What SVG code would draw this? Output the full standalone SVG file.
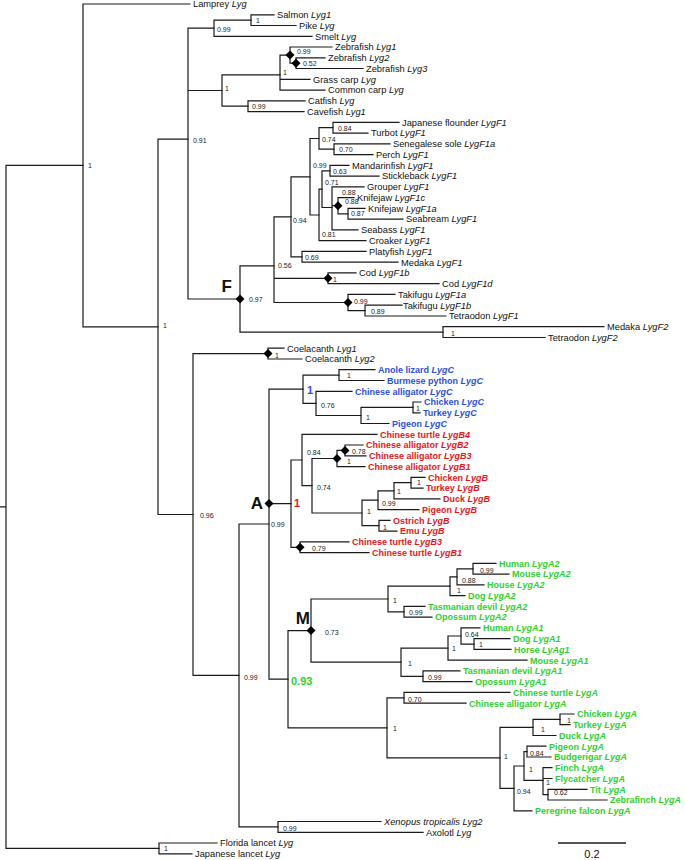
<svg xmlns="http://www.w3.org/2000/svg" xmlns:xlink="http://www.w3.org/1999/xlink" width="685" height="860" viewBox="0 0 685 860">
<defs>
<style>
.b{fill:none;stroke:#1a1a1a;stroke-width:1.2;stroke-linecap:square}
.t{font-family:"Liberation Sans",Arial,sans-serif;font-size:9.3px;fill:#111}
.i{font-style:italic}
.s{font-family:"Liberation Sans",Arial,sans-serif;font-size:7px;fill:#222}
.bl{fill:#2c4fe0;font-weight:bold;font-size:9px}
.rd{fill:#e8141c;font-weight:bold;font-size:9px}
.gr{fill:#2ed12e;font-weight:bold;font-size:9px}
.big{font-family:"Liberation Sans",Arial,sans-serif;font-size:17px;font-weight:bold;fill:#111}
.sb{font-family:"Liberation Sans",Arial,sans-serif;font-size:11px;font-weight:bold}
</style>
<path id="dm" d="M0,-4.5L4.5,0L0,4.5L-4.5,0Z" fill="#000"/>
</defs>
<rect width="685" height="860" fill="#fff"/>
<g id="connectors" class="b">
<path d="M6,165.4V848.4M0,506.9H6M6,165.4H83M6,848.4H159"/>
<path d="M83,4V326.9M83,4H190M83,326.9H158"/>
<path d="M158,139.2V514.5M158,139.2H188M158,514.5H193"/>
<path d="M188,28.2V299M188,28.2H214M188,90.5H222M188,299H240"/>
<path d="M214,20.1V36.3M214,20.1H251M214,36.3H312"/>
<path d="M251,14.8V25.5M251,14.8H274M251,25.5H296"/>
<path d="M222,74.8V106.2M222,74.8H280M222,106.2H248"/>
<path d="M280,55.1V90.1M280,55.1H290M280,79.3H310M280,90.1H325"/>
<path d="M290,47V63.2M290,47H332M290,63.2H296"/>
<path d="M296,57.8V68.5M296,57.8H325M296,68.5H363"/>
<path d="M248,100.8V111.6M248,100.8H305M248,111.6H304"/>
<path d="M240,265.9V332.1M240,265.9H274M240,332.1H443"/>
<path d="M274,216.8V302.5M274,216.8H291M274,278.3H328M274,302.5H348"/>
<path d="M291,176.8V256.8M291,176.8H310M291,256.8H302"/>
<path d="M310,138.5V215M310,138.5H319M310,215H319"/>
<path d="M319,127.7V149.2M319,127.7H333M319,149.2H334"/>
<path d="M333,122.3V133.1M333,122.3H399M333,133.1H368"/>
<path d="M334,143.8V154.6M334,143.8H390M334,154.6H373"/>
<path d="M319,189.2V240.7M319,189.2H322M319,240.7H366"/>
<path d="M322,170.8V207.5M322,170.8H330M322,207.5H332"/>
<path d="M330,165.4V176.1M330,165.4H349M330,176.1H379"/>
<path d="M332,186.9V229.9M332,186.9H364M332,205.7H338M332,229.9H358"/>
<path d="M338,197.6V213.8M338,197.6H354M338,213.8H348"/>
<path d="M348,208.4V219.1M348,208.4H365M348,219.1H403"/>
<path d="M302,251.4V262.2M302,251.4H366M302,262.2H398"/>
<path d="M328,272.9V283.7M328,272.9H356M328,283.7H439"/>
<path d="M348,294.4V310.6M348,294.4H395M348,310.6H365"/>
<path d="M365,305.2V316M365,305.2H402M365,316H446"/>
<path d="M443,326.7V337.5M443,326.7H604M443,337.5H545"/>
<path d="M193,353.6V675.4M193,353.6H268M193,675.4H239"/>
<path d="M268,348.2V359M268,348.2H284M268,359H302"/>
<path d="M239,524V826.9M239,524H269M239,826.9H278"/>
<path d="M278,821.5V832.3M278,821.5H381M278,832.3H423"/>
<path d="M269,389.2V679.2M269,389.2H303M269,503.6H291M269,679.2H288"/>
<path d="M303,375.1V403.3M303,375.1H339M303,403.3H316"/>
<path d="M339,369.7V380.5M339,369.7H375M339,380.5H384"/>
<path d="M316,391.3V415.5M316,391.3H352M316,415.5H361"/>
<path d="M361,407.4V423.5M361,407.4H413M361,423.5H389"/>
<path d="M413,402V412.8M413,402H421M413,412.8H420"/>
<path d="M291,460V547.3M291,460H302M291,547.3H300"/>
<path d="M302,434.3V485.7M302,434.3H377M302,485.7H312"/>
<path d="M312,458.5V513M312,458.5H337M312,513H362"/>
<path d="M337,450.4V466.6M337,450.4H345M337,466.6H365"/>
<path d="M345,445V455.8M345,445H363M345,455.8H366"/>
<path d="M362,500.2V525.7M362,500.2H378M362,525.7H379"/>
<path d="M378,490.8V509.6M378,490.8H394M378,509.6H419"/>
<path d="M394,482.7V498.8M394,482.7H411M394,498.8H440"/>
<path d="M411,477.3V488.1M411,477.3H425M411,488.1H423"/>
<path d="M379,520.3V531.1M379,520.3H390M379,531.1H397"/>
<path d="M300,541.9V552.6M300,541.9H349M300,552.6H369"/>
<path d="M288,630.6V727.9M288,630.6H311M288,727.9H387"/>
<path d="M311,599V662.2M311,599H388M311,662.2H401"/>
<path d="M388,586.2V611.8M388,586.2H450M388,611.8H404"/>
<path d="M450,576.8V595.6M450,576.8H457M450,595.6H465"/>
<path d="M457,568.8V584.9M457,568.8H473M457,584.9H484"/>
<path d="M473,563.4V574.1M473,563.4H496M473,574.1H509"/>
<path d="M404,606.4V617.1M404,606.4H425M404,617.1H432"/>
<path d="M401,648.1V676.3M401,648.1H448M401,676.3H423"/>
<path d="M448,636V660.2M448,636H461M448,660.2H527"/>
<path d="M461,627.9V644.1M461,627.9H480M461,644.1H474"/>
<path d="M474,638.7V649.4M474,638.7H510M474,649.4H511"/>
<path d="M423,670.9V681.7M423,670.9H460M423,681.7H472"/>
<path d="M387,697.8V757.9M387,697.8H404M387,757.9H500"/>
<path d="M404,692.4V703.2M404,692.4H510M404,703.2H466"/>
<path d="M500,727.4V788.4M500,727.4H533M500,788.4H514"/>
<path d="M533,719.4V735.5M533,719.4H560M533,735.5H556"/>
<path d="M560,714V724.7M560,714H574M560,724.7H570"/>
<path d="M514,766V810.8M514,766H524M514,810.8H532"/>
<path d="M524,751.6V780.3M524,751.6H527M524,780.3H543"/>
<path d="M527,746.2V757M527,746.2H546M527,757H551"/>
<path d="M543,767.7V794.6M543,767.7H552M543,778.5H552M543,794.6H548"/>
<path d="M548,789.3V800M548,789.3H587M548,800H607"/>
<path d="M159,843V853.8M159,843H217M159,853.8H192"/>
</g>
<g id="leaves" class="t">
<g id="leaf-lamprey"><text x="193" y="7.3">Lamprey <tspan class="i">Lyg</tspan></text></g>
<g id="leaf-salmon"><text x="277" y="18.1">Salmon <tspan class="i">Lyg1</tspan></text></g>
<g id="leaf-pike"><text x="299" y="28.8">Pike <tspan class="i">Lyg</tspan></text></g>
<g id="leaf-smelt"><text x="315" y="39.6">Smelt <tspan class="i">Lyg</tspan></text></g>
<g id="leaf-zf1"><text x="335" y="50.3">Zebrafish <tspan class="i">Lyg1</tspan></text></g>
<g id="leaf-zf2"><text x="328" y="61.1">Zebrafish <tspan class="i">Lyg2</tspan></text></g>
<g id="leaf-zf3"><text x="366" y="71.8">Zebrafish <tspan class="i">Lyg3</tspan></text></g>
<g id="leaf-grasscarp"><text x="313" y="82.6">Grass carp <tspan class="i">Lyg</tspan></text></g>
<g id="leaf-commoncarp"><text x="328" y="93.4">Common carp <tspan class="i">Lyg</tspan></text></g>
<g id="leaf-catfish"><text x="308" y="104.1">Catfish <tspan class="i">Lyg</tspan></text></g>
<g id="leaf-cavefish"><text x="307" y="114.9">Cavefish <tspan class="i">Lyg1</tspan></text></g>
<g id="leaf-jflounder"><text x="402" y="125.6">Japanese flounder <tspan class="i">LygF1</tspan></text></g>
<g id="leaf-turbot"><text x="371" y="136.4">Turbot <tspan class="i">LygF1</tspan></text></g>
<g id="leaf-sole"><text x="393" y="147.1">Senegalese sole <tspan class="i">LygF1a</tspan></text></g>
<g id="leaf-perch"><text x="376" y="157.9">Perch <tspan class="i">LygF1</tspan></text></g>
<g id="leaf-mandarin"><text x="352" y="168.7">Mandarinfish <tspan class="i">LygF1</tspan></text></g>
<g id="leaf-stickleback"><text x="382" y="179.4">Stickleback <tspan class="i">LygF1</tspan></text></g>
<g id="leaf-grouper"><text x="367" y="190.2">Grouper <tspan class="i">LygF1</tspan></text></g>
<g id="leaf-knifejawc"><text x="357" y="200.9">Knifejaw <tspan class="i">LygF1c</tspan></text></g>
<g id="leaf-knifejawa"><text x="368" y="211.7">Knifejaw <tspan class="i">LygF1a</tspan></text></g>
<g id="leaf-seabream"><text x="406" y="222.4">Seabream <tspan class="i">LygF1</tspan></text></g>
<g id="leaf-seabass"><text x="361" y="233.2">Seabass <tspan class="i">LygF1</tspan></text></g>
<g id="leaf-croaker"><text x="369" y="244">Croaker <tspan class="i">LygF1</tspan></text></g>
<g id="leaf-platyfish"><text x="369" y="254.7">Platyfish <tspan class="i">LygF1</tspan></text></g>
<g id="leaf-medakaf1"><text x="401" y="265.5">Medaka <tspan class="i">LygF1</tspan></text></g>
<g id="leaf-codb"><text x="359" y="276.2">Cod <tspan class="i">LygF1b</tspan></text></g>
<g id="leaf-codd"><text x="442" y="287">Cod <tspan class="i">LygF1d</tspan></text></g>
<g id="leaf-takifugua"><text x="398" y="297.7">Takifugu <tspan class="i">LygF1a</tspan></text></g>
<g id="leaf-takifugub"><text x="403" y="308.5">Takifugu <tspan class="i">LygF1b</tspan></text></g>
<g id="leaf-tetraodonf1"><text x="449" y="319.3">Tetraodon <tspan class="i">LygF1</tspan></text></g>
<g id="leaf-medakaf2"><text x="607" y="330">Medaka <tspan class="i">LygF2</tspan></text></g>
<g id="leaf-tetraodonf2"><text x="548" y="340.8">Tetraodon <tspan class="i">LygF2</tspan></text></g>
<g id="leaf-coel1"><text x="287" y="351.5">Coelacanth <tspan class="i">Lyg1</tspan></text></g>
<g id="leaf-coel2"><text x="305" y="362.3">Coelacanth <tspan class="i">Lyg2</tspan></text></g>
<g id="leaf-anole"><text class="bl" x="378" y="373">Anole lizard <tspan class="i">LygC</tspan></text></g>
<g id="leaf-python"><text class="bl" x="387" y="383.8">Burmese python <tspan class="i">LygC</tspan></text></g>
<g id="leaf-alligatorc"><text class="bl" x="355" y="394.6">Chinese alligator <tspan class="i">LygC</tspan></text></g>
<g id="leaf-chickenc"><text class="bl" x="424" y="405.3">Chicken <tspan class="i">LygC</tspan></text></g>
<g id="leaf-turkeyc"><text class="bl" x="423" y="416.1">Turkey <tspan class="i">LygC</tspan></text></g>
<g id="leaf-pigeonc"><text class="bl" x="392" y="426.8">Pigeon <tspan class="i">LygC</tspan></text></g>
<g id="leaf-turtleb4"><text class="rd" x="380" y="437.6">Chinese turtle <tspan class="i">LygB4</tspan></text></g>
<g id="leaf-alligatorb2"><text class="rd" x="366" y="448.3">Chinese alligator <tspan class="i">LygB2</tspan></text></g>
<g id="leaf-alligatorb3"><text class="rd" x="369" y="459.1">Chinese alligator <tspan class="i">LygB3</tspan></text></g>
<g id="leaf-alligatorb1"><text class="rd" x="368" y="469.9">Chinese alligator <tspan class="i">LygB1</tspan></text></g>
<g id="leaf-chickenb"><text class="rd" x="428" y="480.6">Chicken <tspan class="i">LygB</tspan></text></g>
<g id="leaf-turkeyb"><text class="rd" x="426" y="491.4">Turkey <tspan class="i">LygB</tspan></text></g>
<g id="leaf-duckb"><text class="rd" x="443" y="502.1">Duck <tspan class="i">LygB</tspan></text></g>
<g id="leaf-pigeonb"><text class="rd" x="422" y="512.9">Pigeon <tspan class="i">LygB</tspan></text></g>
<g id="leaf-ostrich"><text class="rd" x="393" y="523.6">Ostrich <tspan class="i">LygB</tspan></text></g>
<g id="leaf-emu"><text class="rd" x="400" y="534.4">Emu <tspan class="i">LygB</tspan></text></g>
<g id="leaf-turtleb3"><text class="rd" x="352" y="545.2">Chinese turtle <tspan class="i">LygB3</tspan></text></g>
<g id="leaf-turtleb1"><text class="rd" x="372" y="555.9">Chinese turtle <tspan class="i">LygB1</tspan></text></g>
<g id="leaf-humana2"><text class="gr" x="499" y="566.7">Human <tspan class="i">LygA2</tspan></text></g>
<g id="leaf-mousea2"><text class="gr" x="512" y="577.4">Mouse <tspan class="i">LygA2</tspan></text></g>
<g id="leaf-housea2"><text class="gr" x="487" y="588.2">House <tspan class="i">LygA2</tspan></text></g>
<g id="leaf-doga2"><text class="gr" x="468" y="598.9">Dog <tspan class="i">LygA2</tspan></text></g>
<g id="leaf-tasa2"><text class="gr" x="428" y="609.7">Tasmanian devil <tspan class="i">LygA2</tspan></text></g>
<g id="leaf-opossuma2"><text class="gr" x="435" y="620.4">Opossum <tspan class="i">LygA2</tspan></text></g>
<g id="leaf-humana1"><text class="gr" x="483" y="631.2">Human <tspan class="i">LygA1</tspan></text></g>
<g id="leaf-doga1"><text class="gr" x="513" y="642">Dog <tspan class="i">LygA1</tspan></text></g>
<g id="leaf-horse"><text class="gr" x="514" y="652.7">Horse <tspan class="i">LyAg1</tspan></text></g>
<g id="leaf-mousea1"><text class="gr" x="530" y="663.5">Mouse <tspan class="i">LygA1</tspan></text></g>
<g id="leaf-tasa1"><text class="gr" x="463" y="674.2">Tasmanian devil <tspan class="i">LygA1</tspan></text></g>
<g id="leaf-opossuma1"><text class="gr" x="475" y="685">Opossum <tspan class="i">LygA1</tspan></text></g>
<g id="leaf-turtlea"><text class="gr" x="513" y="695.7">Chinese turtle <tspan class="i">LygA</tspan></text></g>
<g id="leaf-alligatora"><text class="gr" x="469" y="706.5">Chinese alligator <tspan class="i">LygA</tspan></text></g>
<g id="leaf-chickena"><text class="gr" x="577" y="717.3">Chicken <tspan class="i">LygA</tspan></text></g>
<g id="leaf-turkeya"><text class="gr" x="573" y="728">Turkey <tspan class="i">LygA</tspan></text></g>
<g id="leaf-ducka"><text class="gr" x="559" y="738.8">Duck <tspan class="i">LygA</tspan></text></g>
<g id="leaf-pigeona"><text class="gr" x="549" y="749.5">Pigeon <tspan class="i">LygA</tspan></text></g>
<g id="leaf-budgerigar"><text class="gr" x="554" y="760.3">Budgerigar <tspan class="i">LygA</tspan></text></g>
<g id="leaf-finch"><text class="gr" x="555" y="771">Finch <tspan class="i">LygA</tspan></text></g>
<g id="leaf-flycatcher"><text class="gr" x="555" y="781.8">Flycatcher <tspan class="i">LygA</tspan></text></g>
<g id="leaf-tit"><text class="gr" x="590" y="792.6">Tit <tspan class="i">LygA</tspan></text></g>
<g id="leaf-zebrafinch"><text class="gr" x="610" y="803.3">Zebrafinch <tspan class="i">LygA</tspan></text></g>
<g id="leaf-falcon"><text class="gr" x="535" y="814.1">Peregrine falcon <tspan class="i">LygA</tspan></text></g>
<g id="leaf-xenopus"><text class="i" x="384" y="824.8">Xenopus tropicalis Lyg2</text></g>
<g id="leaf-axolotl"><text x="426" y="835.6">Axolotl <tspan class="i">Lyg</tspan></text></g>
<g id="leaf-florida"><text x="220" y="846.3">Florida lancet <tspan class="i">Lyg</tspan></text></g>
<g id="leaf-japanese"><text x="195" y="857.1">Japanese lancet <tspan class="i">Lyg</tspan></text></g>
</g>
<g id="nodes" class="s">
<g id="n-root"><text x="88" y="168">1</text></g>
<g id="n-salmongrp"><text x="217" y="31.5">0.99</text></g>
<g id="n-salmonpike"><text x="256" y="22.5">1</text></g>
<g id="n-zf"><use xlink:href="#dm" x="290" y="55.1"/><text x="297" y="54">0.99</text></g>
<g id="n-zf23"><use xlink:href="#dm" x="296" y="63.2"/><text x="303" y="66">0.52</text></g>
<g id="n-cyprinid"><text x="283" y="75">1</text></g>
<g id="n-ostario"><text x="225" y="91">1</text></g>
<g id="n-catfish"><text x="252" y="109">0.99</text></g>
<g id="n-teleost"><text x="193" y="142.5">0.91</text></g>
<g id="n-flounder"><text x="338" y="131">0.84</text></g>
<g id="n-flatfish"><text x="322" y="141.5">0.74</text></g>
<g id="n-sole"><text x="339" y="152">0.70</text></g>
<g id="n-perco"><text x="313" y="167.5">0.99</text></g>
<g id="n-mandarin"><text x="333" y="174">0.63</text></g>
<g id="n-071"><text x="325" y="185">0.71</text></g>
<g id="n-grouper"><text x="342" y="195">0.88</text></g>
<g id="n-knifejaw"><use xlink:href="#dm" x="338" y="205.7"/><text x="345" y="204">0.88</text></g>
<g id="n-seabream"><text x="351" y="216">0.87</text></g>
<g id="n-094"><text x="293" y="222.5">0.94</text></g>
<g id="n-croaker"><text x="322" y="237">0.81</text></g>
<g id="n-platy"><text x="305" y="260">0.69</text></g>
<g id="n-056"><text x="278" y="268">0.56</text></g>
<g id="n-cod"><use xlink:href="#dm" x="328" y="278.3"/><text x="333" y="281.5">1</text></g>
<g id="n-takifugu"><use xlink:href="#dm" x="348" y="302.5"/><text x="354" y="304">0.99</text></g>
<g id="n-tetraodon"><text x="371" y="313.5">0.89</text></g>
<g id="n-F"><use xlink:href="#dm" x="240" y="299"/><text x="249" y="302">0.97</text><text class="big" x="232" y="292" text-anchor="end">F</text></g>
<g id="n-lygf2"><text x="451" y="336">1</text></g>
<g id="n-vert"><text x="163" y="328">1</text></g>
<g id="n-coel"><use xlink:href="#dm" x="268" y="353.6"/><text x="275" y="357.5">1</text></g>
<g id="n-sarco"><text x="200" y="517.5">0.96</text></g>
<g id="n-lygc"><text class="sb" x="307" y="394" fill="#2c4fe0">1</text></g>
<g id="n-squamate"><text x="347" y="378">1</text></g>
<g id="n-076"><text x="321" y="407.5">0.76</text></g>
<g id="n-chickenc"><text x="416" y="411">1</text></g>
<g id="n-birdc"><text x="366" y="420">1</text></g>
<g id="n-084r"><text x="307" y="454.5">0.84</text></g>
<g id="n-allig078"><use xlink:href="#dm" x="345" y="450.4"/><text x="352" y="454">0.78</text></g>
<g id="n-allig1"><use xlink:href="#dm" x="337" y="458.5"/><text x="347" y="464">1</text></g>
<g id="n-074r"><text x="317" y="489.5">0.74</text></g>
<g id="n-chickenb"><text x="417" y="485">1</text></g>
<g id="n-duckb"><text x="397" y="494">1</text></g>
<g id="n-pigeonb"><text x="382" y="506">0.99</text></g>
<g id="n-birdb"><text x="367" y="513.5">1</text></g>
<g id="n-ratite"><text x="383" y="530">1</text></g>
<g id="n-turtleb"><use xlink:href="#dm" x="300" y="547.3"/><text x="312" y="551">0.79</text></g>
<g id="n-lygb"><text class="sb" x="294" y="507" fill="#e8141c">1</text></g>
<g id="n-A"><use xlink:href="#dm" x="269" y="503.6"/><text x="271" y="526.5">0.99</text><text class="big" x="263" y="509" text-anchor="end">A</text></g>
<g id="n-humana2"><text x="480" y="573">0.99</text></g>
<g id="n-housea2"><text x="462" y="582.5">0.88</text></g>
<g id="n-doga2"><text x="457" y="593">1</text></g>
<g id="n-lyga2"><text x="393" y="602.5">1</text></g>
<g id="n-marsa2"><text x="409" y="615">0.99</text></g>
<g id="n-M"><use xlink:href="#dm" x="311" y="630.6"/><text x="325" y="635">0.73</text><text class="big" x="310" y="624" text-anchor="end">M</text></g>
<g id="n-humana1"><text x="465" y="636.5">0.64</text></g>
<g id="n-dogahorse"><text x="479" y="646.5">1</text></g>
<g id="n-mousea1"><text x="452" y="651">1</text></g>
<g id="n-lyga1"><text x="408" y="666">1</text></g>
<g id="n-marsa1"><text x="428" y="680">0.99</text></g>
<g id="n-reptilea"><text x="408" y="701.5">0.70</text></g>
<g id="n-sauria"><text x="393" y="731">1</text></g>
<g id="n-lyga"><text class="sb" x="291" y="685" fill="#2ed12e">0.93</text></g>
<g id="n-chickena"><text x="567" y="723">1</text></g>
<g id="n-galloa"><text x="541" y="732">1</text></g>
<g id="n-birda"><text x="504" y="759">1</text></g>
<g id="n-pigeona"><text x="530" y="756">0.84</text></g>
<g id="n-neoaves"><text x="529" y="771.5">1</text></g>
<g id="n-passer"><text x="546" y="785">1</text></g>
<g id="n-tit"><text x="554" y="795">0.62</text></g>
<g id="n-falcon"><text x="517" y="794">0.94</text></g>
<g id="n-tetrapod"><text x="244" y="679.5">0.99</text></g>
<g id="n-amphibian"><text x="283" y="831">0.99</text></g>
<g id="n-lancet"><text x="164" y="851">1</text></g>
</g>
<g id="scale">
<path d="M558,843H626" stroke="#1a1a1a" stroke-width="1.5"/>
<text x="592" y="858" text-anchor="middle" font-family="Liberation Sans, Arial, sans-serif" font-size="11" fill="#111">0.2</text>
</g>
</svg>
